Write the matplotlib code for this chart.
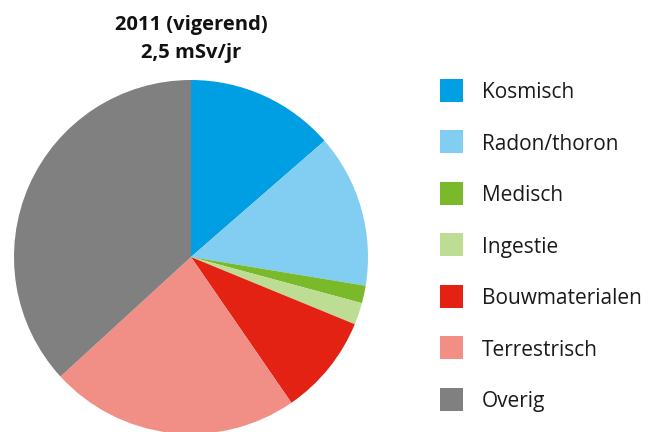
import matplotlib
matplotlib.use("Agg")
import matplotlib.pyplot as plt
from matplotlib.patches import Rectangle

plt.rcParams['font.family'] = ['Open Sans', 'DejaVu Sans']

# bijdragen aan de dosis (mSv/jr), totaal 2,5
labels = ['Kosmisch', 'Radon/thoron', 'Medisch', 'Ingestie',
          'Bouwmaterialen', 'Terrestrisch', 'Overig']
values = [0.34, 0.35, 0.04, 0.05, 0.23, 0.57, 0.92]
colors = ['#009FE3', '#81CEF2', '#7AB929', '#BDDD95',
          '#E42213', '#F18F87', '#808080']
title_lines = ['2011 (vigerend)', '2,5 mSv/jr']

W, H = 660, 432
fig = plt.figure(figsize=(W / 100, H / 100), dpi=100)

# pie: center (191, 257) px, radius 177 px
cx, cy, r = 191, 257, 177
ax = fig.add_axes([(cx - r) / W, (H - cy - r) / H, 2 * r / W, 2 * r / H])
ax.pie(values, colors=colors, startangle=90, counterclock=False,
       radius=1, wedgeprops=dict(linewidth=0))
ax.set_xlim(-1, 1)
ax.set_ylim(-1, 1)
ax.set_aspect('equal')
ax.axis('off')

# title
fig.text(cx / W, 1 - 25 / H, title_lines[0], ha='center', va='center',
         fontsize=14.5, fontweight='bold', color='#111111')
fig.text(cx / W, 1 - 53 / H, title_lines[1], ha='center', va='center',
         fontsize=14.5, fontweight='bold', color='#111111')

# legend
y0, dy = 90, 51.5
for i, (lab, col) in enumerate(zip(labels, colors)):
    yc = y0 + i * dy
    fig.patches.append(Rectangle((440 / W, 1 - (yc + 11.5) / H), 23 / W, 23 / H,
                                 transform=fig.transFigure, facecolor=col,
                                 edgecolor='none'))
    fig.text(482 / W, 1 - (yc + 8) / H, lab, ha='left', va='baseline',
             fontsize=15, color='#1a1a1a')

fig.savefig('out.png', dpi=100)
